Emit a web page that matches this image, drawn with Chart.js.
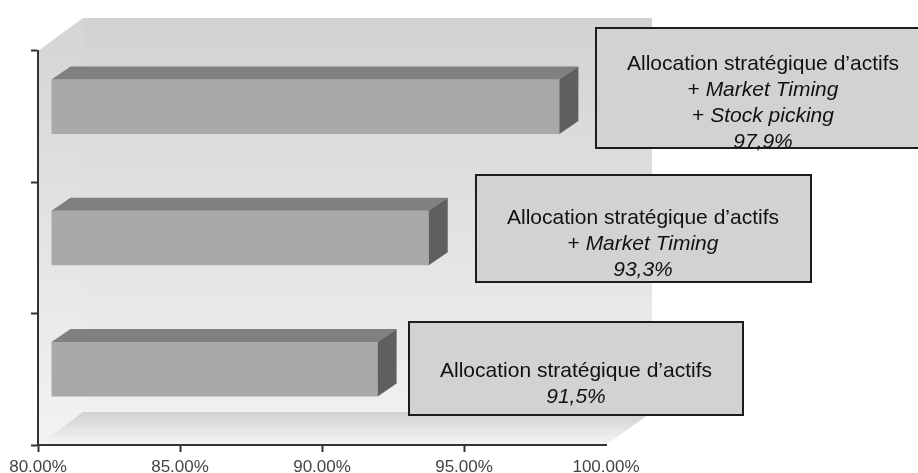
<!DOCTYPE html>
<html lang="fr">
<head>
<meta charset="utf-8">
<title>Allocation stratégique d'actifs</title>
<script src="https://cdn.jsdelivr.net/npm/chart.js@4/dist/chart.umd.min.js"></script>
<style>
  html, body { margin: 0; background: #fff; }
  canvas { display: block; }
</style>
</head>
<body>
<canvas id="chart" width="918" height="473"></canvas>
<script>
// Valeurs du graphique
const categories = ["Stock picking", "Market Timing", "Allocation"];
const values = [97.9, 93.3, 91.5];
const xMin = 80;
const xMax = 100;
const xStep = 5;

// Textes des encadrés, du haut vers le bas
const boxTexts = [
  [[["Allocation stratégique d’actifs", false]], [["+ ", false], ["Market Timing", true]], [["+ ", false], ["Stock picking", true]]],
  [[["Allocation stratégique d’actifs", false]], [["+ ", false], ["Market Timing", true]]],
  [[["Allocation stratégique d’actifs", false]]],
];

const FONT = '"Liberation Sans", Arial, sans-serif';
const boxes = [
  { left: 596, top: 28, right: 920, bottom: 148, textX: 763, textY: 64 },
  { left: 476, top: 175, right: 811, bottom: 282, textX: 643, textY: 218 },
  { left: 409, top: 322, right: 743, bottom: 415, textX: 576, textY: 371 },
];
const LINE_HEIGHT = 26;

// Profondeur du décor et des barres
const wallDepth = { x: 45, y: -33 };
const barShift = { x: 13, y: -10 };
const barDepth = { x: 19, y: -13 };

function poly(ctx, points, fill) {
  ctx.beginPath();
  points.forEach((p, i) => (i ? ctx.lineTo(p[0], p[1]) : ctx.moveTo(p[0], p[1])));
  ctx.closePath();
  ctx.fillStyle = fill;
  ctx.fill();
}

function vGradient(ctx, y0, y1, c0, c1) {
  const g = ctx.createLinearGradient(0, y0, 0, y1);
  g.addColorStop(0, c0);
  g.addColorStop(1, c1);
  return g;
}

// Murs et sol derrière les axes
const walls = {
  id: "walls",
  beforeDraw(chart) {
    const { ctx, chartArea: a } = chart;
    const dx = wallDepth.x, dy = wallDepth.y;
    const backTop = a.top + dy, backBottom = a.bottom + dy;
    poly(ctx, [[a.left + dx, backTop], [a.right + dx + 1, backTop], [a.right + dx + 1, backBottom], [a.left + dx, backBottom]],
      vGradient(ctx, backTop, backBottom, "#d2d2d2", "#f0f0f0"));
    poly(ctx, [[a.left, a.top], [a.left + dx, backTop], [a.left + dx, backBottom], [a.left, a.bottom]],
      vGradient(ctx, a.top, a.bottom, "#d6d6d6", "#f3f3f3"));
    poly(ctx, [[a.left, a.bottom], [a.left + dx, backBottom], [a.right + dx + 1, backBottom], [a.right, a.bottom]],
      vGradient(ctx, backBottom, a.bottom, "#d0d0d0", "#f6f6f6"));
  },
};

// Décale les barres et ajoute leurs faces supérieure et latérale
const bars3d = {
  id: "bars3d",
  beforeDatasetDraw(chart) {
    chart.ctx.save();
    chart.ctx.translate(barShift.x, barShift.y);
  },
  afterDatasetDraw(chart, args) {
    const ctx = chart.ctx;
    const dx = barDepth.x, dy = barDepth.y;
    args.meta.data.forEach((bar) => {
      const top = bar.y - bar.height / 2;
      const bottom = bar.y + bar.height / 2;
      poly(ctx, [[bar.base, top], [bar.base + dx, top + dy], [bar.x + dx, top + dy], [bar.x, top]], "#808080");
      poly(ctx, [[bar.x, top], [bar.x + dx, top + dy], [bar.x + dx, bottom + dy], [bar.x, bottom]], "#5f5f5f");
    });
    ctx.restore();
  },
};

// Encadrés de texte posés par-dessus le graphique
const labelBoxes = {
  id: "labelBoxes",
  afterDraw(chart) {
    const ctx = chart.ctx;
    boxes.forEach((b, i) => {
      ctx.fillStyle = "#d2d2d2";
      ctx.fillRect(b.left, b.top, b.right - b.left, b.bottom - b.top);
      ctx.strokeStyle = "#1c1c1c";
      ctx.lineWidth = 2;
      ctx.strokeRect(b.left, b.top, b.right - b.left, b.bottom - b.top);

      const lines = boxTexts[i].concat([[[values[i].toFixed(1).replace(".", ",") + "%", true]]]);
      ctx.fillStyle = "#111";
      ctx.textBaseline = "middle";
      ctx.textAlign = "left";
      lines.forEach((parts, n) => {
        const fontOf = (italic) => (italic ? "italic " : "") + "21px " + FONT;
        let width = 0;
        parts.forEach(([text, italic]) => {
          ctx.font = fontOf(italic);
          width += ctx.measureText(text).width;
        });
        let x = b.textX - width / 2;
        parts.forEach(([text, italic]) => {
          ctx.font = fontOf(italic);
          ctx.fillText(text, x, b.textY + n * LINE_HEIGHT);
          x += ctx.measureText(text).width;
        });
      });
    });
  },
};

new Chart(document.getElementById("chart"), {
  type: "bar",
  data: {
    labels: categories,
    datasets: [
      {
        data: values,
        base: xMin,
        backgroundColor: "#a9a9a9",
        borderWidth: 0,
        barPercentage: 0.415,
        categoryPercentage: 1,
        clip: false,
      },
    ],
  },
  plugins: [walls, bars3d, labelBoxes],
  options: {
    indexAxis: "y",
    responsive: false,
    animation: false,
    layout: { padding: { top: 51, right: 312, left: 0, bottom: 0 } },
    plugins: { legend: { display: false }, tooltip: { enabled: false } },
    scales: {
      x: {
        min: xMin,
        max: xMax,
        afterFit: (scale) => { scale.height = 28; },
        border: { color: "#333", width: 2 },
        grid: {
          drawOnChartArea: false,
          tickLength: 7,
          tickWidth: 2,
          tickColor: (c) => (c.tick && c.tick.value === xMax ? "transparent" : "#333"),
        },
        ticks: {
          stepSize: xStep,
          maxRotation: 0,
          padding: 5,
          color: "#444",
          font: { family: FONT, size: 17 },
          callback: (v) => v.toFixed(2) + "%",
        },
      },
      y: {
        afterFit: (scale) => { scale.width = 38; },
        border: { color: "#333", width: 2 },
        grid: { drawOnChartArea: false, tickLength: 7, tickWidth: 2, tickColor: "#333" },
        ticks: { display: false },
      },
    },
  },
});
</script>
</body>
</html>
